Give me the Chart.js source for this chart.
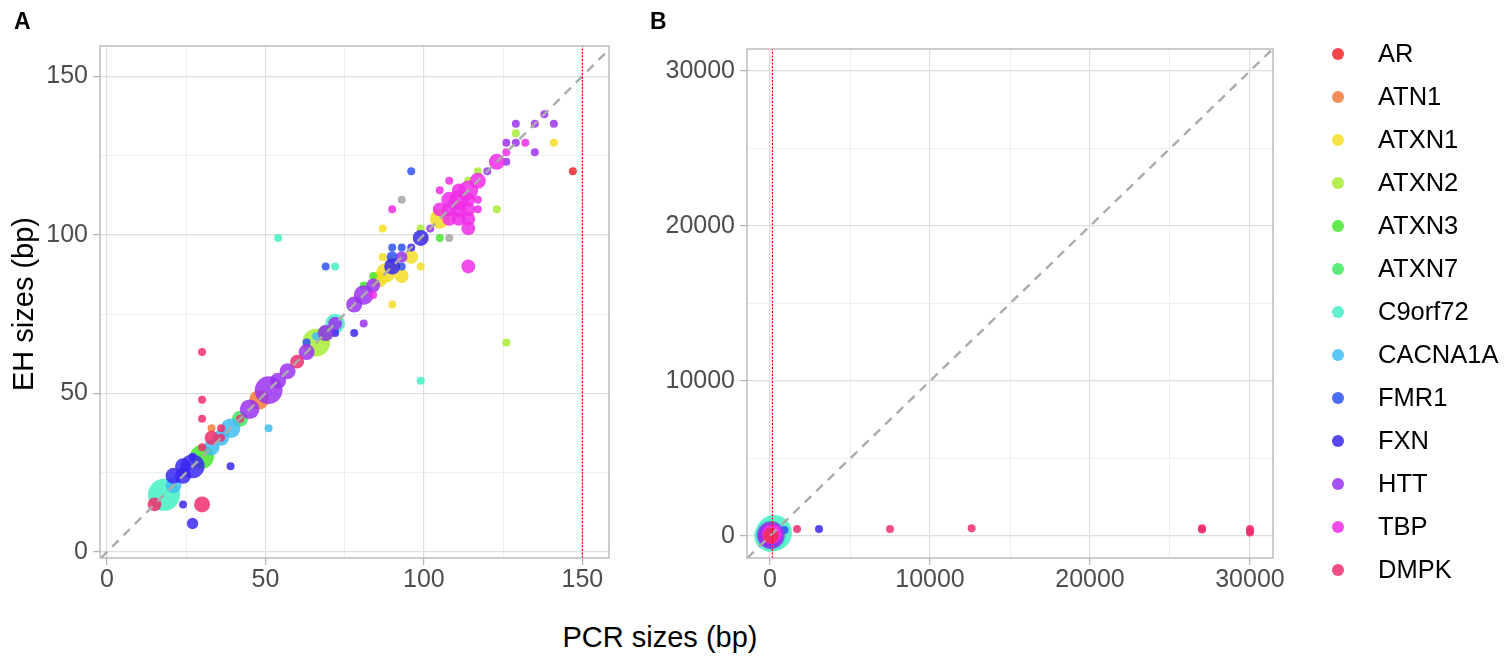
<!DOCTYPE html>
<html>
<head>
<meta charset="utf-8">
<script src="https://cdn.jsdelivr.net/npm/chart.js@4"></script>
<style>
  body { margin: 0; background: #fff; font-family: "Liberation Sans", Arial, sans-serif; }
  #page { position: relative; width: 1504px; height: 656px; overflow: hidden; }
  canvas { position: absolute; top: 0; }
  .lbl { position: absolute; line-height: 1; white-space: nowrap; color: #000; }
  .tag { font-weight: bold; font-size: 23px; }
  .legend-item { position: absolute; left: 1330px; height: 30px; }
  .legend-dot { position: absolute; left: 2px; top: 9px; width: 12px; height: 12px; border-radius: 50%; }
  .legend-text { position: absolute; left: 48px; top: 2px; font-size: 25.5px; line-height: 1; color: #000; }
</style>
</head>
<body>
<div id="page">
  <canvas id="panelA" width="630" height="600" style="left:0px"></canvas>
  <canvas id="panelB" width="700" height="600" style="left:640px"></canvas>
  <div class="lbl tag" style="left:14px; top:10px">A</div>
  <div class="lbl tag" style="left:650px; top:10px">B</div>
  <div class="lbl" style="left:23px; top:304px; font-size:29px; transform: translate(-50%, -50%) rotate(-90deg)">EH sizes (bp)</div>
  <div class="lbl" style="left:660px; top:637px; font-size:29px; transform: translate(-50%, -50%)">PCR sizes (bp)</div>
  <div id="legend"></div>
</div>
<script>
// genes and colours
const genes = ["AR", "ATN1", "ATXN1", "ATXN2", "ATXN3", "ATXN7", "C9orf72", "CACNA1A", "FMR1", "FXN", "HTT", "TBP", "DMPK"];
const geneColors = ["#F5262C", "#F27A36", "#F4DC26", "#A8EC32", "#46E630", "#40E862", "#44EEC4", "#40BEF4", "#2E52F4", "#3A28F0", "#9A32F0", "#F02EE6", "#F02E6C"];

// [PCR size, EH size, number of samples]
const AR = [[147, 120, 1]];
const ATN1 = [[48, 48, 6], [33, 39, 1]];
const ATXN1 = [[105, 105, 6], [88, 88, 6], [86, 86, 4], [90, 91, 3], [93, 87, 3], [96, 93, 3], [87, 93, 1],
  [99, 90, 1], [90, 78, 1], [87, 102, 1], [141, 129, 1], [100, 99, 1]];
const ATXN2 = [[66, 66, 12], [126, 66, 1], [129, 132, 1], [117, 120, 1], [114, 117, 1], [123, 108, 1], [99, 102, 1]];
const ATXN3 = [[30, 30, 9], [69, 69, 4], [105, 99, 1], [84, 87, 1], [81, 84, 1]];
const ATXN7 = [[42, 42, 4]];
const C9orf72 = [[18, 18, 16], [72, 72, 6], [54, 99, 1], [72, 90, 1], [99, 54, 1]];
const CACNA1A = [[39, 39, 6], [36, 36, 4], [33, 33, 4], [21, 21, 4], [51, 39, 1], [66, 68, 1]];
const FMR1 = [[96, 120, 1], [90, 96, 1], [93, 96, 1], [93, 90, 1], [69, 90, 1], [63, 66, 1], [90, 93, 2]];
const FXN = [[27, 27, 9], [24, 27, 4], [24, 24, 4], [21, 24, 4], [39, 27, 1], [24, 15, 1], [27, 9, 2], [27, 30, 1],
  [99, 99, 4], [96, 96, 1], [90, 90, 4], [78, 69, 1], [72, 69, 1]];
const HTT = [[51, 51, 12], [54, 54, 4], [57, 57, 4], [63, 63, 4], [45, 45, 6], [69, 69, 4], [72, 72, 3], [78, 78, 4],
  [81, 81, 6], [81, 72, 1], [84, 84, 3], [93, 93, 2], [102, 102, 1], [120, 120, 1], [126, 123, 1], [126, 129, 1],
  [129, 129, 1], [129, 135, 1], [135, 135, 1], [141, 135, 1], [138, 138, 1], [135, 126, 1]];
const TBP = [[105, 108, 3], [108, 108, 3], [108, 111, 4], [111, 111, 6], [111, 108, 4], [114, 114, 6], [117, 117, 4],
  [114, 108, 3], [114, 105, 3], [108, 105, 3], [111, 105, 3], [114, 111, 3], [117, 111, 1], [117, 108, 1],
  [108, 117, 1], [105, 114, 1], [114, 102, 3], [114, 90, 3], [90, 108, 1], [84, 81, 1], [123, 123, 4],
  [126, 126, 1], [132, 129, 1], [111, 114, 3]];
const DMPK = [[15, 15, 3], [30, 15, 4], [30, 63, 1], [30, 48, 1], [30, 42, 1], [33, 36, 3], [36, 39, 1],
  [30, 33, 1], [42, 42, 1], [60, 60, 3], [36, 36, 1]];
// samples without a gene label (grey)
const unlabelled = [[93, 111, 1], [108, 99, 1]];

// long expansions, only inside the range of panel B
const C9orf72_long = [[250, 200, 20]];
const DMPK_long = [[1690, 450, 1], [7500, 450, 1], [12600, 500, 1], [27000, 500, 1], [27000, 420, 1],
  [30000, 450, 1], [30000, 330, 1], [30000, 220, 1]];
const FXN_long = [[3060, 450, 1]];
const FMR1_long = [[900, 380, 1]];

// threshold line
const cutoff = 150;

// ticks
const ticksA = [0, 50, 100, 150];
const minorA = [25, 75, 125];
const ticksB = [0, 10000, 20000, 30000];
const minorB = [5000, 15000, 25000];

const geneData = [AR, ATN1, ATXN1, ATXN2, ATXN3, ATXN7, C9orf72, CACNA1A, FMR1, FXN, HTT, TBP, DMPK];

function alpha(hex, a) {
  const n = parseInt(hex.slice(1), 16);
  return "rgba(" + (n >> 16) + "," + ((n >> 8) & 255) + "," + (n & 255) + "," + a + ")";
}

function radius(n) {
  return 4 * Math.sqrt(n);
}

function pointDataset(label, pts, color, order) {
  return {
    type: "scatter",
    label: label,
    data: pts.map((p) => ({ x: p[0], y: p[1] })),
    pointRadius: pts.map((p) => radius(p[2])),
    pointHoverRadius: pts.map((p) => radius(p[2])),
    backgroundColor: alpha(color, 0.85),
    borderWidth: 0,
    order: order,
  };
}

const frame = {
  id: "frame",
  afterDatasetsDraw(chart) {
    const a = chart.chartArea;
    const ctx = chart.ctx;
    ctx.save();
    ctx.strokeStyle = "#B3B3B3";
    ctx.lineWidth = 1.3;
    ctx.strokeRect(a.left, a.top, a.right - a.left, a.bottom - a.top);
    ctx.restore();
  },
};

function axis(lim, major, minor, size, horizontal) {
  const all = major.concat(minor).sort((a, b) => a - b);
  return {
    type: "linear",
    min: lim[0],
    max: lim[1],
    bounds: "data",
    afterBuildTicks: (ax) => {
      ax.ticks = all.map((v) => ({ value: v }));
    },
    afterFit: (ax) => {
      if (horizontal) ax.height = size;
      else ax.width = size;
      ax.paddingLeft = 0;
      ax.paddingRight = 0;
      ax.paddingTop = 0;
      ax.paddingBottom = 0;
    },
    border: { display: false },
    grid: {
      color: (c) => (c.tick && major.includes(c.tick.value) ? "#DEDEDE" : "#EBEBEB"),
      lineWidth: (c) => (c.tick && major.includes(c.tick.value) ? 1.2 : 0.8),
      tickLength: 7,
      tickColor: (c) => (c.tick && major.includes(c.tick.value) ? "#B3B3B3" : "rgba(0,0,0,0)"),
      tickWidth: 1.2,
    },
    ticks: {
      autoSkip: false,
      maxRotation: 0,
      padding: horizontal ? 0 : 5,
      color: "#4D4D4D",
      font: { family: "'Liberation Sans', Arial, sans-serif", size: 25 },
      callback: (v) => (major.includes(v) ? String(v) : ""),
    },
  };
}

function makePanel(id, limX, limY, major, minor, yWidth, pad, extras) {
  const datasets = [];
  datasets.push(pointDataset("NA", unlabelled, "#A6A6A6", 200));
  genes.forEach((g, i) => {
    const pts = (extras[g] || []).concat(geneData[i]);
    datasets.push(pointDataset(g, pts, geneColors[i], 100 - i));
  });
  const lo = Math.max(limX[0], limY[0]);
  const hi = Math.min(limX[1], limY[1]);
  datasets.push({
    type: "line",
    label: "x = y",
    data: [{ x: lo, y: lo }, { x: hi, y: hi }],
    borderColor: "#ABABAB",
    borderWidth: 2.4,
    borderDash: [9, 7],
    pointRadius: 0,
    fill: false,
    order: 1,
  });
  datasets.push({
    type: "line",
    label: "cutoff",
    data: [{ x: cutoff, y: limY[0] }, { x: cutoff, y: limY[1] }],
    borderColor: "#FF0000",
    borderWidth: 1.2,
    borderDash: [2, 1.5],
    pointRadius: 0,
    fill: false,
    order: 0,
  });

  new Chart(document.getElementById(id).getContext("2d"), {
    type: "scatter",
    data: { datasets: datasets },
    options: {
      responsive: false,
      animation: false,
      devicePixelRatio: 1,
      layout: { padding: pad },
      plugins: { legend: { display: false }, tooltip: { enabled: false } },
      scales: {
        x: axis(limX, major, minor, 42, true),
        y: axis(limY, major, minor, yWidth, false),
      },
    },
    plugins: [frame],
  });
}

// the right padding must stay above the largest point radius, or Chart.js widens it
makePanel("panelA", [-2.2, 158.4], [-1.9, 159.5], ticksA, minorA, 100,
  { top: 46, right: 21, bottom: 0, left: 0 }, {});
makePanel("panelB", [-1440, 31440], [-1420, 31420], ticksB, minorB, 107,
  { top: 49, right: 67, bottom: 0, left: 0 },
  { C9orf72: C9orf72_long, DMPK: DMPK_long, FXN: FXN_long, FMR1: FMR1_long });

// legend
const legend = document.getElementById("legend");
genes.forEach((g, i) => {
  const item = document.createElement("div");
  item.className = "legend-item";
  item.style.top = (53.5 + 43.04 * i - 15) + "px";
  const dot = document.createElement("div");
  dot.className = "legend-dot";
  dot.style.background = alpha(geneColors[i], 0.85);
  const txt = document.createElement("div");
  txt.className = "legend-text";
  txt.textContent = g;
  item.appendChild(dot);
  item.appendChild(txt);
  legend.appendChild(item);
});
</script>
</body>
</html>
